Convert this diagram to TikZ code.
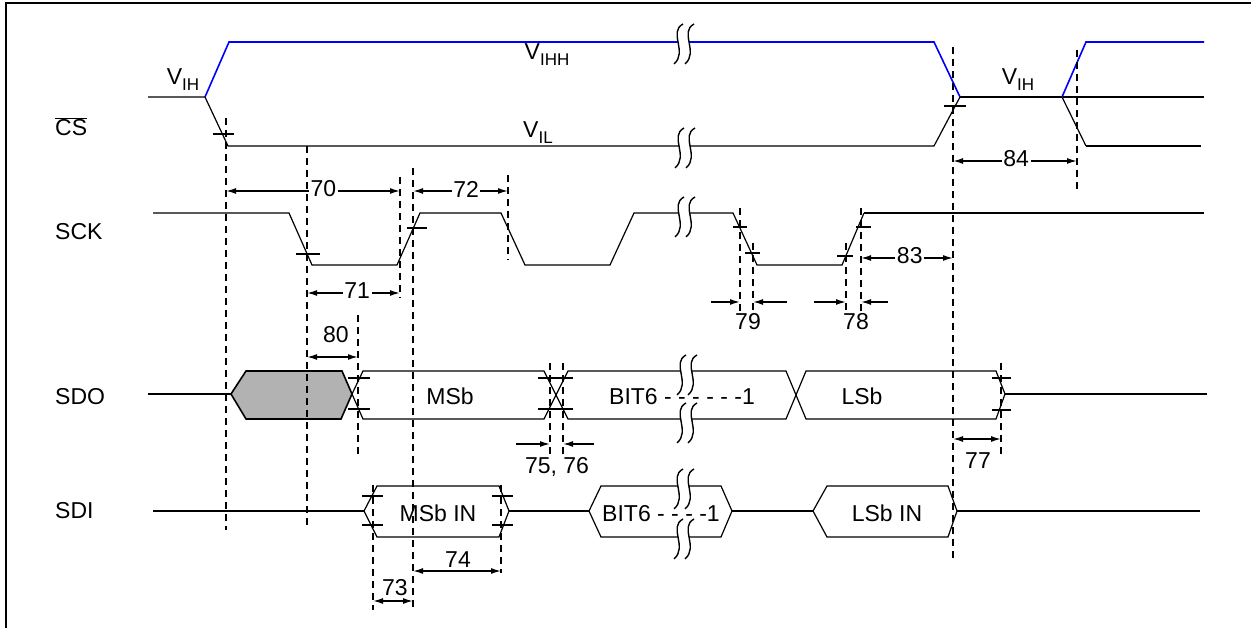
\documentclass[tikz,border=0pt]{standalone}
\usepackage{fontspec}
\setmainfont{Liberation Sans}
\usetikzlibrary{arrows.meta}

\tikzstyle{signal}=[line width=1.2pt, line join=miter]
\tikzstyle{dick}=[line width=1.8pt]
\tikzstyle{hoch}=[blue, line width=1.6pt]
\tikzstyle{hilfslinie}=[line width=2pt, dash pattern=on 7pt off 5pt]
\tikzstyle{marke}=[line width=1.8pt]
\tikzstyle{mass}=[line width=1.5pt]
\tikzstyle{zahl}=[fill=white, inner sep=1.5pt]
\tikzstyle{bruchlinie}=[line width=1.4pt]

\newcommand{\tief}[1]{\raisebox{-6pt}{\fontsize{17}{17}\selectfont #1}}
\newcommand{\bruch}[2]{%
	\fill[white] (#1+6,#2-20) .. controls (#1-9,#2-12) and (#1+11,#2+8) .. (#1-3,#2+20)
		-- (#1+8,#2+20) .. controls (#1+22,#2+8) and (#1+2,#2-12) .. (#1+17,#2-20) -- cycle;
	\draw[bruchlinie] (#1+6,#2-20) .. controls (#1-9,#2-12) and (#1+11,#2+8) .. (#1-3,#2+20);
	\draw[bruchlinie] (#1+17,#2-20) .. controls (#1+2,#2-12) and (#1+22,#2+8) .. (#1+8,#2+20);
}

\begin{document}
\begin{tikzpicture}[x=1pt, y=-1pt, font=\fontsize{23}{26}\selectfont, >={Latex[length=10pt,width=6pt]}]
	\useasboundingbox (0,0) rectangle (1251,628);

	% Rahmen
	\draw[line width=2.5pt] (6,628) -- (6,3) -- (1251,3);

	% Signalnamen
	\node(cs)  at (55,136) [anchor=base west, inner sep=0pt] {$\overline{\mbox{CS}}$};
	\node(sck) at (55,240) [anchor=base west, inner sep=0pt] {SCK};
	\node(sdo) at (55,404) [anchor=base west, inner sep=0pt] {SDO};
	\node(sdi) at (55,518) [anchor=base west, inner sep=0pt] {SDI};

	% CS
	\draw[signal] (148,97) -- (205,97) -- (228,146) -- (934,146) -- (960,97);
	\draw[dick] (960,97) -- (1204,97);
	\draw[signal] (1062,97) -- (1086,146);
	\draw[dick] (1086,146) -- (1201,146);
	\draw[hoch] (205,97) -- (229,42) -- (934,42) -- (960,97);
	\draw[hoch] (1062,97) -- (1086,42) -- (1204,42);
	\node(vih)  at (183,85)  [anchor=base] {V\tief{IH}};
	\node(vihh) at (547,60)  [anchor=base] {V\tief{IHH}};
	\node(vil)  at (538,138) [anchor=base] {V\tief{IL}};
	\node(vih2) at (1018,85) [anchor=base] {V\tief{IH}};

	% SCK
	\draw[signal] (153,213) -- (289,213) -- (312,265) -- (397,265) -- (420,213) -- (501,213)
		-- (525,265) -- (610,265) -- (634,213) -- (733,213) -- (757,265) -- (842,265) -- (864,213);
	\draw[dick] (864,213) -- (1204,213);

	% SDO
	\draw[signal] (148,394) -- (231,394);
	\draw[signal, line width=1.6pt, fill=black!30] (231,394) -- (246,371) -- (342,371) -- (352,394)
		-- (341,419) -- (246,419) -- cycle;
	\draw[signal] (352,394) -- (363,371) -- (544,371) -- (568,419) -- (786,419) -- (806,371)
		-- (996,371) -- (1005,394) -- (996,419) -- (806,419) -- (786,371) -- (568,371)
		-- (544,419) -- (363,419) -- cycle;
	\draw[dick] (1005,394) -- (1207,394);

	% SDI
	\draw[dick] (153,511) -- (364,511);
	\draw[signal] (364,511) -- (377,486) -- (499,486) -- (509,511) -- (499,537) -- (377,537) -- cycle;
	\draw[dick] (509,511) -- (589,511);
	\draw[signal] (589,511) -- (601,486) -- (721,486) -- (732,511) -- (721,537) -- (601,537) -- cycle;
	\draw[dick] (732,511) -- (813,511);
	\draw[signal] (813,511) -- (827,486) -- (948,486) -- (957,511) -- (948,537) -- (827,537) -- cycle;
	\draw[signal] (957,511) -- (1200,511);

	% Unterbrechungen
	\bruch{677}{44}
	\bruch{678}{148}
	\bruch{678}{217}
	\bruch{680}{375}
	\bruch{680}{423}
	\bruch{677}{489}
	\bruch{677}{539}

	% Zelleninhalt
	\node(msb)   at (450,405) [anchor=base] {MSb};
	\node(bit6)  at (682,405) [anchor=base] {BIT6 - - - - - -1};
	\node(lsb)   at (862,405) [anchor=base] {LSb};
	\node(msbin) at (438,521) [anchor=base] {MSb IN};
	\node(bit6i) at (661,521) [anchor=base] {BIT6 - - - -1};
	\node(lsbin) at (887,521) [anchor=base] {LSb IN};

	% Messpfeile
	\coordinate (a70) at (226,191); \coordinate (b70) at (400,191);
	\coordinate (a72) at (413,191); \coordinate (b72) at (508,191);
	\coordinate (a71) at (307,293); \coordinate (b71) at (400,293);
	\coordinate (a83) at (861,258); \coordinate (b83) at (953,258);
	\coordinate (a84) at (953,161); \coordinate (b84) at (1077,161);
	\draw[<->, mass] (a70) -- node[zahl, pos=.56, yshift=2pt] (n70) {70} (b70);
	\draw[<->, mass] (a72) -- node[zahl, pos=.56, yshift=2pt] (n72) {72} (b72);
	\draw[<->, mass] (a71) -- node[zahl, pos=.54, yshift=2pt] (n71) {71} (b71);
	\draw[<->, mass] (a83) -- node[zahl, pos=.53, yshift=2pt] (n83) {83} (b83);
	\draw[<->, mass] (a84) -- node[zahl, pos=.51, yshift=2pt] (n84) {84} (b84);

	\coordinate (a80) at (307,357); \coordinate (b80) at (358,357);
	\coordinate (a77) at (953,439); \coordinate (b77) at (1001,439);
	\coordinate (a73) at (373,601); \coordinate (b73) at (413,601);
	\coordinate (a74) at (413,571); \coordinate (b74) at (501,571);
	\draw[<->, mass] (a80) -- (b80);
	\draw[<->, mass] (a77) -- (b77);
	\draw[<->, mass] (a73) -- (b73);
	\draw[<->, mass] (a74) -- (b74);
	\node(n80) at (336,343) [anchor=base] {80};
	\node(n77) at (978,468) [anchor=base] {77};
	\node(n73) at (395,595) [anchor=base] {73};
	\node(n74) at (458,567) [anchor=base] {74};

	\coordinate (a79) at (740,302); \coordinate (b79) at (753,302);
	\coordinate (c79) at (711,302); \coordinate (d79) at (787,302);
	\coordinate (a78) at (846,302); \coordinate (b78) at (861,302);
	\coordinate (c78) at (814,302); \coordinate (d78) at (888,302);
	\coordinate (a75) at (550,444); \coordinate (b75) at (563,444);
	\coordinate (c75) at (516,444); \coordinate (d75) at (594,444);
	\draw[->, mass] (c79) -- (a79);
	\draw[->, mass] (d79) -- (b79);
	\draw[->, mass] (c78) -- (a78);
	\draw[->, mass] (d78) -- (b78);
	\draw[->, mass] (c75) -- (a75);
	\draw[->, mass] (d75) -- (b75);
	\node(n79) at (748,330) [anchor=base] {79};
	\node(n78) at (856,330) [anchor=base] {78};
	\node(n75) at (557,473) [anchor=base] {75, 76};

	% Markierungen
	\foreach \a/\b/\y in {213/234/134, 944/966/106, 296/320/254, 407/427/228, 733/747/227,
		745/760/253, 837/853/256, 856/871/227, 348/370/378, 348/370/409, 538/573/378,
		538/573/409, 992/1011/378, 992/1011/410, 362/383/496, 362/383/525, 492/513/496, 492/513/525}
		\draw[marke] (\a,\y) -- (\b,\y);

	% Hilfslinien
	\foreach \x/\a/\b in {226/118/530, 307/146/525, 400/177/298, 413/168/610, 508/175/260,
		358/315/457, 373/485/610, 501/485/573, 550/363/455, 563/363/455, 740/208/312,
		753/243/312, 846/243/312, 861/208/312, 953/47/562, 1001/363/457, 1077/50/193}
		\draw[hilfslinie] (\x,\a) -- (\x,\b);

\end{tikzpicture}
\end{document}
